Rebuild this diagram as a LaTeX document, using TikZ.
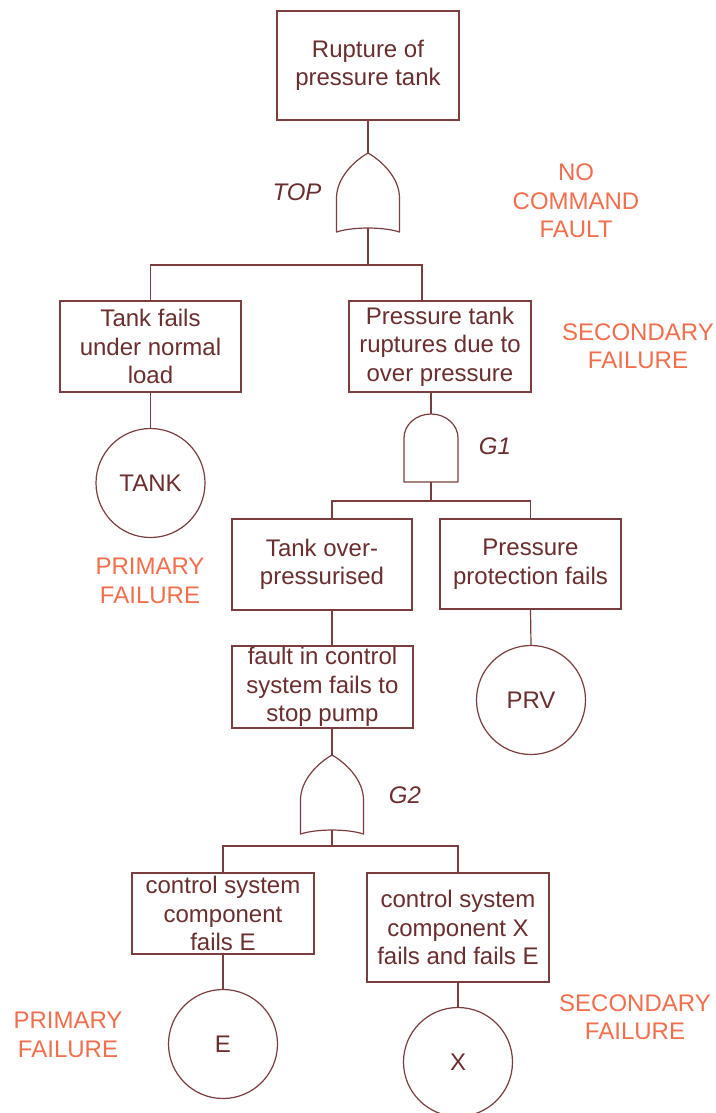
\documentclass[tikz,border=0pt]{standalone}
\usepackage{fontspec}
\setmainfont{Liberation Sans}
\definecolor{lineC}{RGB}{122,62,62}
\definecolor{textC}{RGB}{107,46,46}
\definecolor{orangeC}{RGB}{242,110,76}
\tikzset{
  gateline/.style={draw=lineC, line width=1.2pt, fill=white, line join=round},
  conn/.style={draw=lineC, line width=1.2pt},
  evbox/.style={draw=lineC, line width=1.2pt, fill=white, align=center, inner sep=0pt,
    text=textC, font=\fontsize{24}{28.5}\selectfont},
  basic/.style={circle, draw=lineC, line width=1.2pt, fill=white, inner sep=0pt,
    minimum size=109pt, text=textC, font=\fontsize{24}{28.5}\selectfont},
  gatelabel/.style={text=textC, inner sep=0pt, font=\fontsize{24}{28.5}\selectfont\itshape},
  note/.style={text=orangeC, inner sep=0pt, align=center, font=\fontsize{24}{28.5}\selectfont},
  orgate/.pic={
    \path[gateline] (0,0) .. controls (14,8) and (31.5,25) .. (31.5,45) -- (31.5,79)
      .. controls (15,73.7) and (-15,73.7) .. (-31.5,79) -- (-31.5,45)
      .. controls (-31.5,25) and (-14,8) .. (0,0) -- cycle;
    \coordinate (-in) at (0,0);
    \coordinate (-out) at (0,75);
  },
  andgate/.pic={
    \path[gateline] (-27,68) -- (-27,24) .. controls (-27,10.7) and (-14.9,0) .. (0,0)
      .. controls (14.9,0) and (27,10.7) .. (27,24) -- (27,68) -- cycle;
    \coordinate (-in) at (0,0);
    \coordinate (-out) at (0,68);
  }
}
\begin{document}
\begin{tikzpicture}[x=1pt,y=-1pt]
\fill[white] (0,0) rectangle (715,1113);
\useasboundingbox (0,0) rectangle (715,1113);

% events
\node[evbox, minimum width=182pt, minimum height=109pt] (top) at (368,65.5) {Rupture of\\pressure tank};
\node[evbox, minimum width=181pt, minimum height=91pt] (tankfail) at (150.5,346.5) {Tank fails\\under normal\\load};
\node[evbox, minimum width=182pt, minimum height=91pt] (ptank) at (440,346.5) {Pressure tank\\ruptures due to\\over pressure};
\node[evbox, minimum width=180pt, minimum height=91pt] (overp) at (322,564.5) {Tank over-\\pressurised};
\node[evbox, minimum width=181pt, minimum height=90pt] (protect) at (530.5,564) {Pressure\\protection fails};
\node[evbox, minimum width=181pt, minimum height=82pt] (fault) at (322.5,687) {fault in control\\system fails to\\stop pump};
\node[evbox, minimum width=182pt, minimum height=81pt] (compE) at (223,913.5) {control system\\component\\fails E};
\node[evbox, minimum width=182pt, minimum height=109pt] (compX) at (458,927.5) {control system\\component X\\fails and fails E};

% basic events
\node[basic] (tank) at (150.5,483) {TANK};
\node[basic] (prv) at (531,700) {PRV};
\node[basic] (e) at (223,1044) {E};
\node[basic] (x) at (458,1062) {X};

% gates
\pic (g0) at (368,153) {orgate};
\pic (g1) at (431,414) {andgate};
\pic (g2) at (332,755) {orgate};

\node[gatelabel] (lt) at (297,192) {TOP};
\node[gatelabel] (l1) at (495,446) {G1};
\node[gatelabel] (l2) at (405,795) {G2};

% bar points
\coordinate (bar0) at (368,265);
\coordinate (bar1) at (431,501);
\coordinate (bar2) at (332,846);

% connectors
\draw[conn] (top.south) -- (g0-in);
\draw[conn] (g0-out) -- (bar0);
\draw[conn] (tankfail.north) |- (bar0) -| ([xshift=-18pt]ptank.north);
\draw[conn] (tankfail.south) -- (tank.north);
\draw[conn] (g1-in |- ptank.south) -- (g1-in);
\draw[conn] (g1-out) -- (bar1);
\draw[conn] (g2-in |- overp.north) |- (bar1) -| (protect.north);
\draw[conn] (protect.south) -- (prv.north);
\draw[conn] (g2-in |- overp.south) -- (g2-in |- fault.north);
\draw[conn] (g2-in |- fault.south) -- (g2-in);
\draw[conn] (g2-out) -- (bar2);
\draw[conn] (compE.north) |- (bar2) -| (compX.north);
\draw[conn] (compE.south) -- (e.north);
\draw[conn] (compX.south) -- (x.north);

% notes
\node[note] (n1) at (576,201) {NO\\COMMAND\\FAULT};
\node[note] (n2) at (638,346) {SECONDARY\\FAILURE};
\node[note] (n3) at (150,581) {PRIMARY\\FAILURE};
\node[note] (n4) at (68,1035) {PRIMARY\\FAILURE};
\node[note] (n5) at (635,1017) {SECONDARY\\FAILURE};
\end{tikzpicture}
\end{document}
